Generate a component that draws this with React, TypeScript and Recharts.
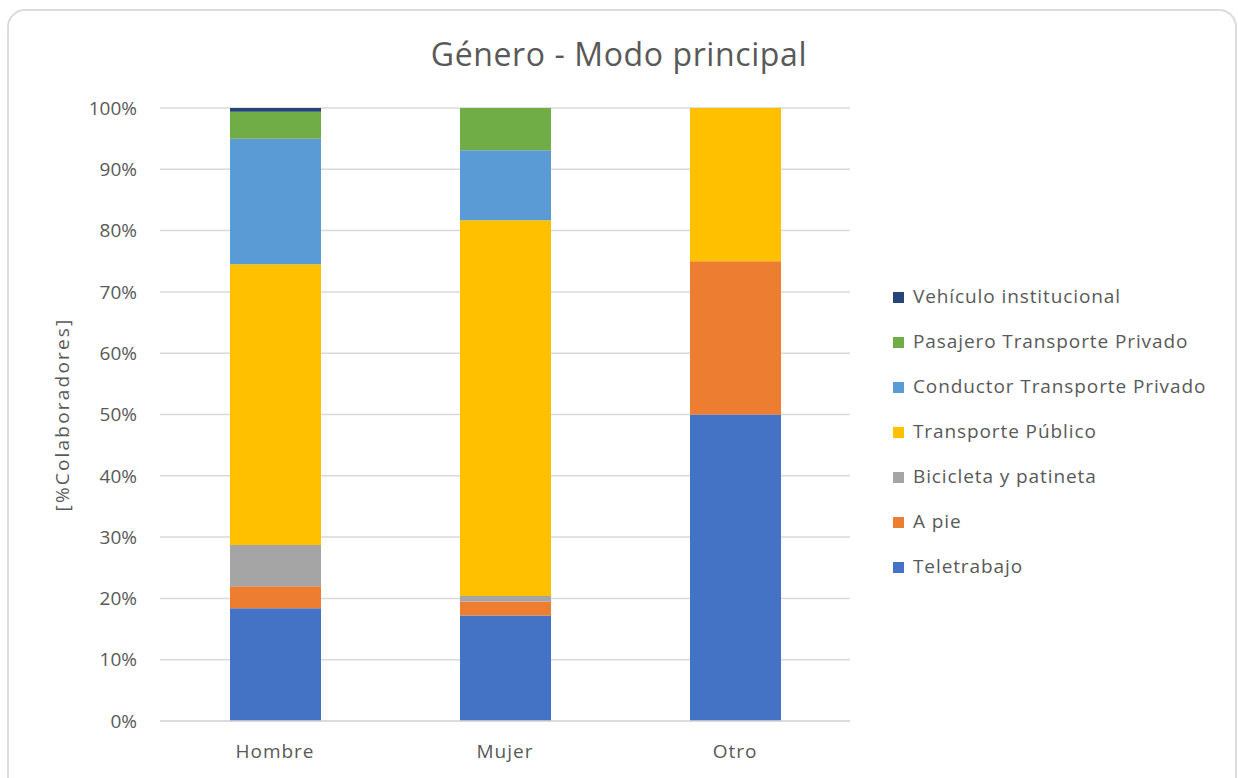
import { BarChart, Bar, XAxis, YAxis, CartesianGrid } from 'recharts'

const categories = ['Hombre', 'Mujer', 'Otro']

// % de colaboradores por modo principal (lectura aproximada del gráfico)
const teletrabajo = [18.4, 17.2, 50]
const aPie = [3.6, 2.3, 25]
const bicicleta = [6.7, 0.9, 0]
const transportePublico = [45.8, 61.3, 25]
const conductorPrivado = [20.5, 11.4, 0]
const pasajeroPrivado = [4.4, 6.9, 0]
const vehiculoInstitucional = [0.6, 0, 0]

const yTicks = [0, 10, 20, 30, 40, 50, 60, 70, 80, 90, 100]

const series = [
  { key: 'tele', name: 'Teletrabajo', values: teletrabajo, color: '#4472C4' },
  { key: 'pie', name: 'A pie', values: aPie, color: '#ED7D31' },
  { key: 'bici', name: 'Bicicleta y patineta', values: bicicleta, color: '#A5A5A5' },
  { key: 'tp', name: 'Transporte Público', values: transportePublico, color: '#FFC000' },
  { key: 'cond', name: 'Conductor Transporte Privado', values: conductorPrivado, color: '#5B9BD5' },
  { key: 'pas', name: 'Pasajero Transporte Privado', values: pasajeroPrivado, color: '#70AD47' },
  { key: 'veh', name: 'Vehículo institucional', values: vehiculoInstitucional, color: '#264478' },
]

const data = categories.map((cat, i) => {
  const row: Record<string, string | number> = { cat }
  series.forEach((s) => { row[s.key] = s.values[i] })
  return row
})

const FONT = '"Open Sans", "Noto Sans", sans-serif'
const TEXT = '#595959'

export default function App() {
  return (
    <div style={{ position: 'absolute', left: 0, top: 0, width: 1238, height: 778, overflow: 'hidden', background: '#fff', fontFamily: FONT }}>
      <div style={{ position: 'absolute', left: 7, top: 9, width: 1226, height: 800, border: '2px solid #dcdcdc', borderRadius: 18 }} />
      <div style={{ position: 'absolute', left: 0, width: 1238, top: 32, textAlign: 'center', fontSize: 32, letterSpacing: 0.6, color: TEXT }}>
        Género - Modo principal
      </div>
      <div style={{ position: 'absolute', left: 0, top: 0 }}>
        <BarChart width={1238} height={778} data={data} margin={{ top: 108, right: 388, bottom: 27, left: 57 }}>
          <CartesianGrid vertical={false} stroke="#d9d9d9" strokeWidth={1.5} />
          <XAxis
            dataKey="cat"
            height={30}
            axisLine={{ stroke: '#d9d9d9', strokeWidth: 1.5 }}
            tickLine={false}
            tickSize={0}
            tickMargin={24}
            tick={{ fill: TEXT, fontSize: 19, fontFamily: FONT, letterSpacing: 1 }}
          />
          <YAxis
            width={103}
            domain={[0, 100]}
            ticks={yTicks}
            tickFormatter={(v: number) => `${v}%`}
            axisLine={false}
            tickLine={false}
            tickSize={0}
            tickMargin={23}
            tick={{ fill: TEXT, fontSize: 19, fontFamily: FONT }}
            label={{
              value: '[%Colaboradores]',
              angle: -90,
              position: 'insideLeft',
              offset: 5,
              style: { textAnchor: 'middle', fill: TEXT, fontSize: 19, fontFamily: FONT, letterSpacing: 2.2 },
            }}
          />
          {series.map((s) => (
            <Bar key={s.key} dataKey={s.key} name={s.name} stackId="a" fill={s.color} barSize={91} isAnimationActive={false} />
          ))}
        </BarChart>
      </div>
      <div style={{ position: 'absolute', left: 893, top: 273 }}>
        {[...series].reverse().map((s) => (
          <div key={s.key} style={{ display: 'flex', alignItems: 'center', height: 45 }}>
            <span style={{ width: 11, height: 11, background: s.color, display: 'inline-block', marginRight: 9, marginTop: 3 }} />
            <span style={{ fontSize: 19, color: TEXT, lineHeight: '22px', letterSpacing: 0.9 }}>{s.name}</span>
          </div>
        ))}
      </div>
    </div>
  )
}
